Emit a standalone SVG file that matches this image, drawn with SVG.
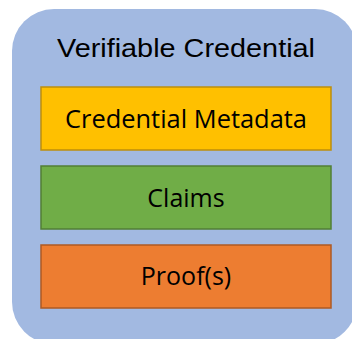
<svg xmlns="http://www.w3.org/2000/svg" width="352" height="339" viewBox="0 0 352 339">
<style>
.box{stroke-width:1.5}
.lbl{font-family:"Open Sans","Noto Sans",sans-serif;font-size:25px;fill:#000;text-anchor:middle}
.title{font-family:"Liberation Sans",Arial,sans-serif;font-size:26px;fill:#000;text-anchor:middle}
</style>
<rect width="352" height="339" fill="#fff"/>
<g id="vc">
<rect x="12" y="9" width="345" height="335" rx="42" ry="42" fill="#A2B9E1"/>
<text class="title" x="186" y="57" textLength="258" lengthAdjust="spacingAndGlyphs">Verifiable Credential</text>
</g>
<g id="metadata">
<rect class="box" x="41" y="87" width="290" height="63" fill="#FFC000" stroke="#BD8E0C"/>
<text class="lbl" x="186" y="128" textLength="242" lengthAdjust="spacingAndGlyphs">Credential Metadata</text>
</g>
<g id="claims">
<rect class="box" x="41" y="166" width="290" height="63" fill="#70AD47" stroke="#527F35"/>
<text class="lbl" x="186" y="207">Claims</text>
</g>
<g id="proofs">
<rect class="box" x="41" y="245" width="290" height="63" fill="#ED7D31" stroke="#AE5A23"/>
<text class="lbl" x="186" y="285">Proof(s)</text>
</g>
<g id="connectors"/>
</svg>
